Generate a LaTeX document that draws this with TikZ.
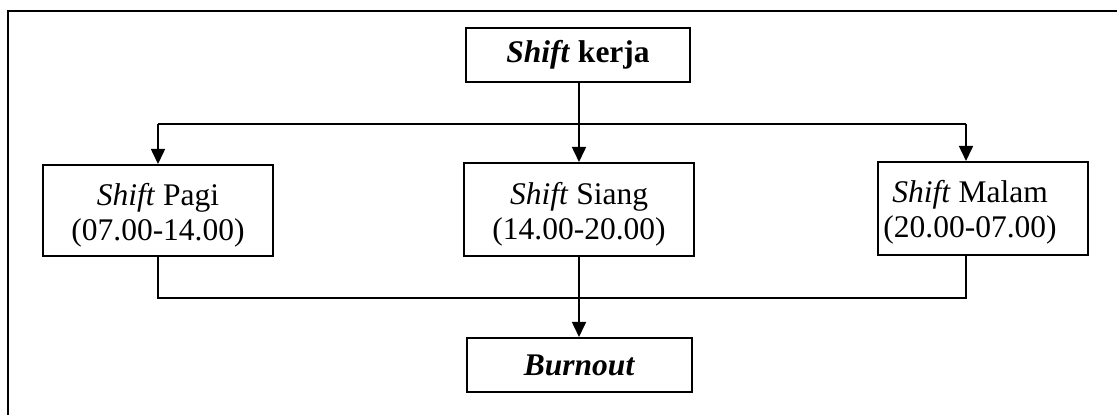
\documentclass[tikz,border=0pt]{standalone}
\usepackage{fontspec}
\setmainfont{Liberation Serif}
\usetikzlibrary{arrows.meta}
\begin{document}
\begin{tikzpicture}[x=0.5pt,y=-0.5pt,
  txt/.style={align=center,inner sep=0pt,
    font=\fontsize{15.75}{17.6}\selectfont},
  box/.style={draw,line width=1pt,inner sep=0pt,txt},
  link/.style={line width=0.8pt},
  arr/.style={link,-{Triangle[length=7.5pt,width=7pt]}}]
\useasboundingbox (0,0) rectangle (1117,415);
% outer frame (top and left edges)
\draw[line width=1.1pt] (8,415) -- (8,11) -- (1117,11);
% boxes
\node[box,minimum width=112pt,minimum height=27pt] (kerja) at (578,55)
  {\textbf{\textit{Shift}} \textbf{kerja}};
\node[box,minimum width=115pt,minimum height=45.5pt,
  label={[txt,yshift=-2.5pt]center:{\textit{Shift} Pagi\\(07.00-14.00)}}]
  (pagi) at (158,210.5) {};
\node[box,minimum width=115pt,minimum height=46.5pt,
  label={[txt,yshift=-2.5pt]center:{\textit{Shift} Siang\\(14.00-20.00)}}]
  (siang) at (579,209.5) {};
\node[box,minimum width=105pt,minimum height=46.5pt,
  label={[txt,yshift=-2pt,xshift=-6.5pt]center:{\textit{Shift} Malam\\(20.00-07.00)}}]
  (malam) at (983,208.5) {};
\node[box,minimum width=112.5pt,minimum height=27pt] (burnout) at (579.5,365)
  {\textbf{\textit{Burnout}}};
% junctions
\coordinate (jl) at (158,124);
\coordinate (jm) at (579,124);
\coordinate (jr) at (966,124);
\coordinate (bl) at (158,298);
\coordinate (br) at (966,298);
% connectors
\draw[link] (kerja.south -| jm) -- (jm);
\draw[link] (jl) -- (jr);
\draw[arr] (jl) -- (pagi.north -| jl);
\draw[arr] (jm) -- (siang.north -| jm);
\draw[arr] (jr) -- (malam.north -| jr);
\draw[link] (pagi.south -| bl) -- (bl) -- (br) -- (malam.south -| br);
\draw[arr] (siang.south) -- (burnout.north -| siang.south);
\end{tikzpicture}
\end{document}
